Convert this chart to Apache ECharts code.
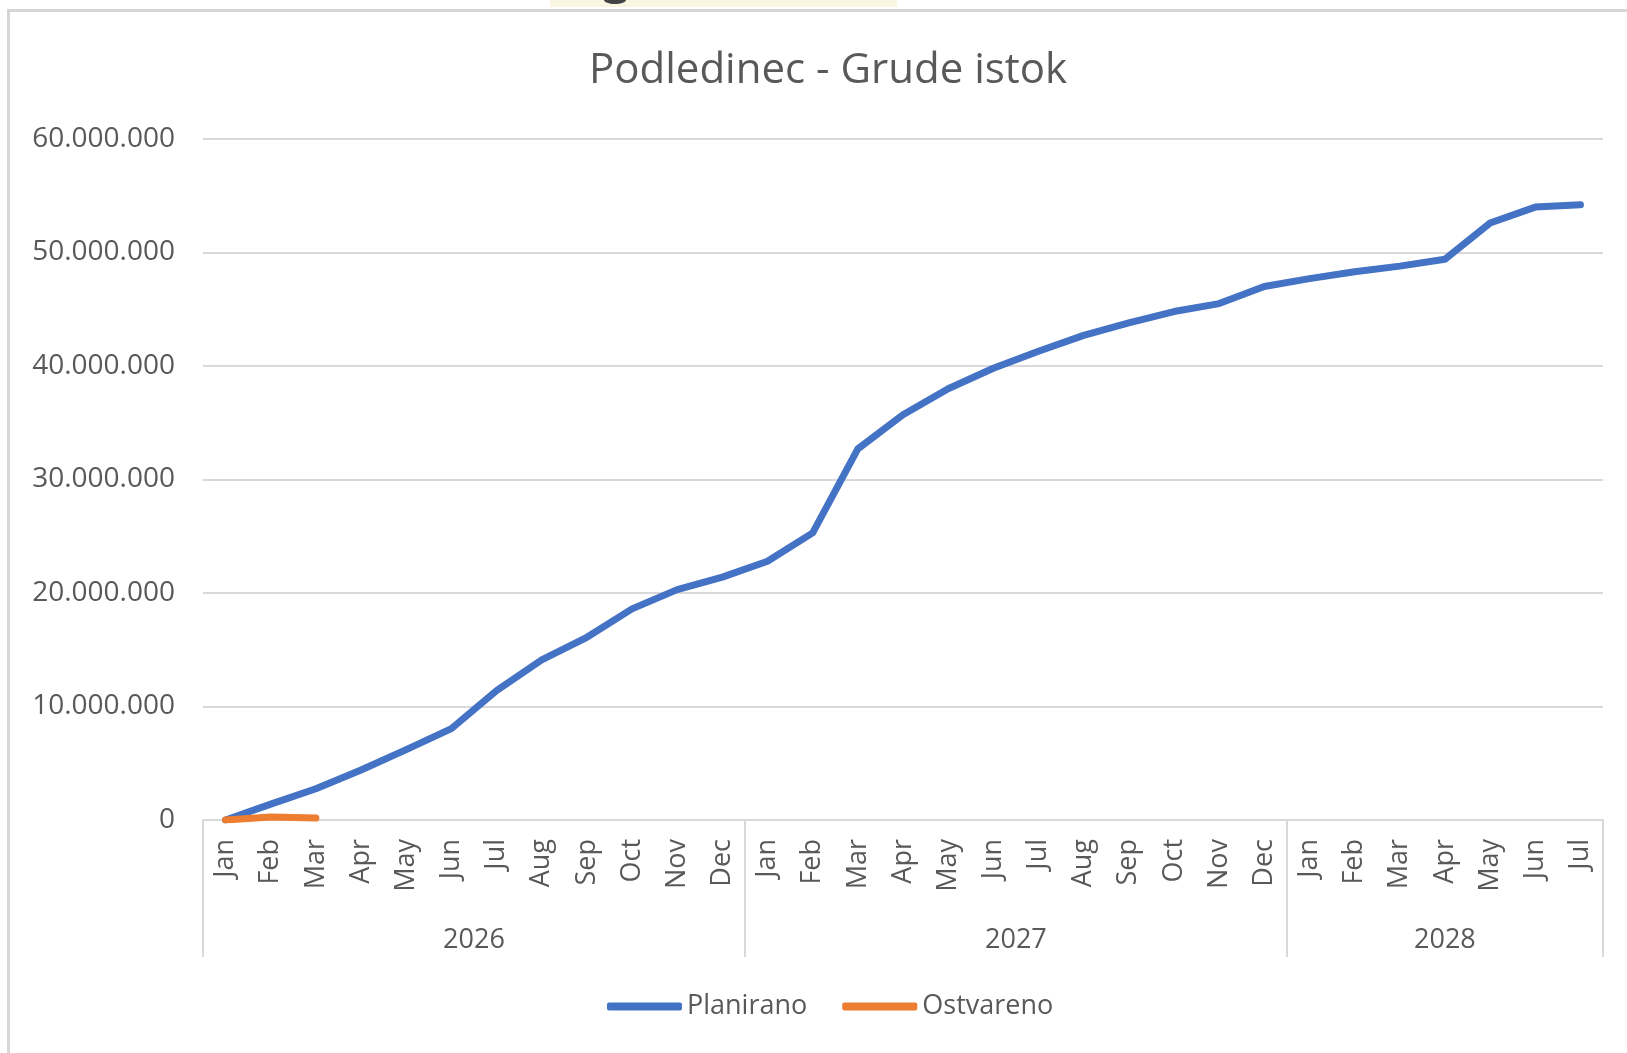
<!DOCTYPE html>
<html>
<head>
<meta charset="utf-8">
<title>Podledinec - Grude istok</title>
<script src="https://cdn.jsdelivr.net/npm/echarts@6/dist/echarts.min.js"></script>
<style>
  html, body { margin: 0; padding: 0; background: #fff; }
  #chart { width: 1627px; height: 1053px; }
</style>
</head>
<body>
<div id="chart"></div>
<script>
  // mjeseci (31 kategorija: 2026, 2027, 2028 do srpnja)
  const months = [
    'Jan', 'Feb', 'Mar', 'Apr', 'May', 'Jun', 'Jul', 'Aug', 'Sep', 'Oct', 'Nov', 'Dec',
    'Jan', 'Feb', 'Mar', 'Apr', 'May', 'Jun', 'Jul', 'Aug', 'Sep', 'Oct', 'Nov', 'Dec',
    'Jan', 'Feb', 'Mar', 'Apr', 'May', 'Jun', 'Jul',
  ]
  const years = ['2026', '2027', '2028']
  const yearBounds = [0, 12, 24, 31] // granice grupa (u mjesecima)
  const yearCenters = [6, 18, 27.5]

  const planirano = [
    0, 1400000, 2750000, 4400000, 6200000, 8050000, 11400000, 14100000, 16100000, 18600000, 20300000, 21400000,
    22800000, 25300000, 32700000, 35700000, 38000000, 39800000, 41300000, 42700000, 43800000, 44800000, 45500000, 47000000,
    47700000, 48300000, 48800000, 49400000, 52600000, 54000000, 54200000,
  ]
  const ostvareno = [0, 270000, 170000]

  const grey = '#595959'
  const font = 'Open Sans'

  function fmtThousands(v) {
    return String(v).replace(/\B(?=(\d{3})+(?!\d))/g, '.')
  }

  const option = {
    backgroundColor: '#fff',
    animation: false,
    title: {
      text: 'Podledinec - Grude istok',
      left: 584,
      top: 45,
      textStyle: { fontFamily: font, fontSize: 42, fontWeight: 'normal', color: grey },
    },
    legend: {
      data: ['Planirano', 'Ostvareno'],
      left: 602,
      top: 988,
      icon: 'roundRect',
      itemWidth: 75,
      itemHeight: 8,
      itemGap: 35,
      textStyle: { fontFamily: font, fontSize: 27, color: grey },
    },
    grid: { left: 203, right: 24, top: 139, bottom: 233 },
    xAxis: [
      {
        type: 'category',
        data: months,
        boundaryGap: true,
        position: 'bottom',
        axisLine: { show: true, lineStyle: { color: '#d9d9d9', width: 2 } },
        axisTick: { show: false },
        axisLabel: {
          interval: 0,
          rotate: 90,
          margin: 19,
          fontFamily: font,
          fontSize: 27,
          color: grey,
        },
        splitLine: { show: false },
      },
      {
        type: 'value',
        min: 0,
        max: 31,
        position: 'bottom',
        axisLine: { show: false },
        axisTick: {
          show: true,
          customValues: yearBounds,
          length: 137,
          lineStyle: { color: '#d9d9d9', width: 2 },
        },
        axisLabel: {
          customValues: yearCenters,
          margin: 107,
          fontFamily: font,
          fontSize: 27,
          color: grey,
          formatter: function (v) {
            const i = yearCenters.indexOf(v)
            return i >= 0 ? years[i] : ''
          },
        },
        splitLine: { show: false },
      },
    ],
    yAxis: {
      type: 'value',
      min: 0,
      max: 60000000,
      interval: 10000000,
      axisLine: { show: false },
      axisTick: { show: false },
      axisLabel: {
        margin: 28,
        fontFamily: font,
        fontSize: 28,
        color: grey,
        formatter: function (v) { return fmtThousands(v) },
      },
      splitLine: { lineStyle: { color: '#d9d9d9', width: 2 } },
    },
    series: [
      {
        name: 'Planirano',
        type: 'line',
        xAxisIndex: 0,
        data: planirano,
        symbol: 'none',
        color: '#4472c4',
        lineStyle: { color: '#4472c4', width: 7, cap: 'round', join: 'round' },
        itemStyle: { color: '#4472c4' },
        z: 3,
      },
      {
        name: 'Ostvareno',
        type: 'line',
        xAxisIndex: 0,
        data: ostvareno,
        symbol: 'none',
        color: '#ed7d31',
        lineStyle: { color: '#ed7d31', width: 7, cap: 'round', join: 'round' },
        itemStyle: { color: '#ed7d31' },
        z: 4,
      },
    ],
    graphic: [
      // okvir grafikona (gornji i lijevi rub)
      { type: 'rect', shape: { x: 7, y: 9, width: 1640, height: 3 }, style: { fill: '#d6d6d6' }, silent: true },
      { type: 'rect', shape: { x: 7, y: 9, width: 3, height: 1060 }, style: { fill: '#d6d6d6' }, silent: true },
      // ostatak slike iznad grafikona
      { type: 'rect', shape: { x: 550, y: 0, width: 347, height: 7 }, style: { fill: '#fbf6e2' }, silent: true },
      { type: 'ellipse', shape: { cx: 615, cy: 0, rx: 11, ry: 4 }, style: { fill: '#444' }, silent: true },
    ],
  }

  const chart = echarts.init(document.getElementById('chart'))
  chart.setOption(option)
</script>
</body>
</html>
